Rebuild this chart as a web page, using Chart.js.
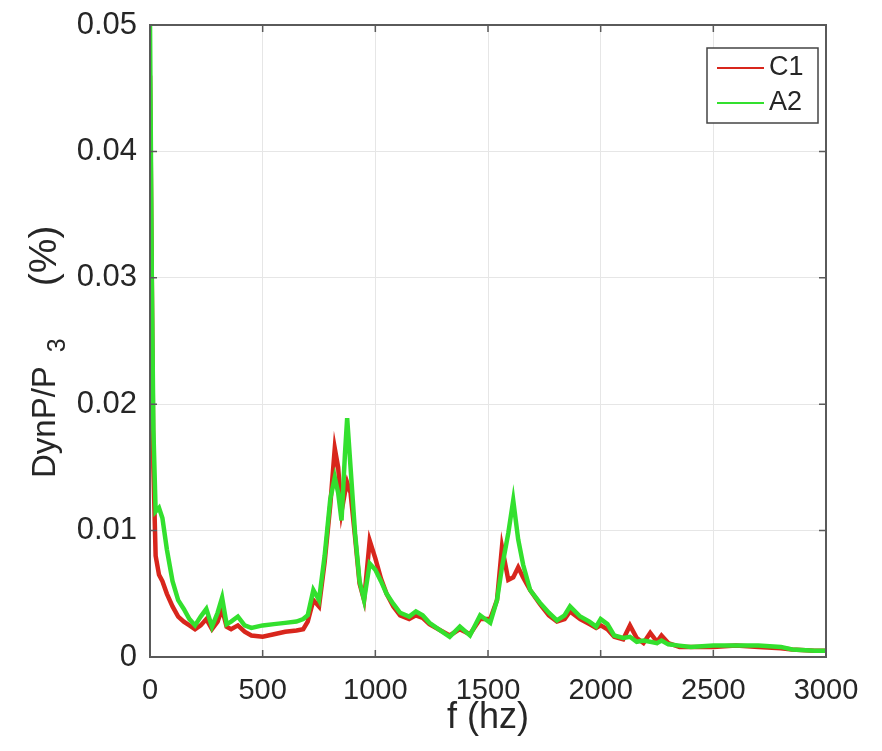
<!DOCTYPE html>
<html>
<head>
<meta charset="utf-8">
<script src="https://cdn.jsdelivr.net/npm/chart.js@4"></script>
<style>
    html, body { margin: 0; padding: 0; background: #ffffff; }
    #wrap { width: 882px; height: 751px; }
</style>
</head>
<body>
<div id="wrap"><canvas id="graph" width="882" height="751"></canvas></div>
<script>
// frequency (hz)
var freqs = [0, 8, 15, 25, 40, 55, 75, 100, 125, 150,
    175, 200, 225, 250, 275, 300, 320, 340, 360, 390,
    420, 450, 500, 550, 600, 650, 680, 700, 725, 750,
    775, 800, 820, 835, 850, 865, 875, 890, 910, 930,
    950, 975, 1000, 1025, 1050, 1080, 1110, 1150, 1180, 1210,
    1240, 1280, 1330, 1375, 1420, 1465, 1510, 1540, 1562, 1590,
    1612, 1634, 1656, 1687, 1730, 1770, 1806, 1840, 1864, 1909,
    1950, 1980, 2000, 2030, 2060, 2100, 2130, 2160, 2190, 2220,
    2250, 2270, 2300, 2350, 2400, 2500, 2600, 2700, 2800, 2850,
    2950, 3000];

// C1 (red)
var c1Values = [0.046, 0.03, 0.015, 0.008, 0.0065, 0.006, 0.005, 0.004, 0.0032, 0.0028,
    0.0025, 0.0022, 0.0025, 0.003, 0.0022, 0.0028, 0.0038, 0.0024, 0.0022, 0.0025,
    0.002, 0.0017, 0.0016, 0.0018, 0.002, 0.0021, 0.0022, 0.0028, 0.0045, 0.004,
    0.0075, 0.012, 0.0165, 0.015, 0.0115, 0.013, 0.0138, 0.013, 0.0095, 0.0058,
    0.0045, 0.0092, 0.0078, 0.0062, 0.005, 0.004, 0.0033, 0.003, 0.0033, 0.0031,
    0.0026, 0.0022, 0.0017, 0.0022, 0.0018, 0.003, 0.003, 0.0045, 0.0087, 0.0061,
    0.0063, 0.0071, 0.0063, 0.0053, 0.0042, 0.0033, 0.0028, 0.003, 0.0036, 0.003,
    0.0026, 0.0023, 0.0025, 0.0022, 0.0016, 0.0014, 0.0025, 0.0015, 0.0011, 0.0019,
    0.0012, 0.0017, 0.0011, 0.0008, 0.0008, 0.0008, 0.0009, 0.0008, 0.0007, 0.0006,
    0.0005, 0.0005];

// A2 (green)
var a2Values = [0.05, 0.03, 0.018, 0.0115, 0.0118, 0.011, 0.0085, 0.006, 0.0045, 0.0038,
    0.003, 0.0025, 0.0032, 0.0038, 0.0024, 0.0035, 0.0047, 0.0026, 0.0028, 0.0032,
    0.0025, 0.0023, 0.0025, 0.0026, 0.0027, 0.0028, 0.003, 0.0033, 0.0053, 0.0045,
    0.008, 0.0125, 0.0142, 0.013, 0.0108, 0.016, 0.0189, 0.015, 0.0098, 0.006,
    0.0045, 0.0074, 0.0069, 0.006, 0.005, 0.0042, 0.0035, 0.0032, 0.0036, 0.0033,
    0.0027, 0.0022, 0.0016, 0.0024, 0.0017, 0.0033, 0.0027, 0.0045, 0.0071, 0.0098,
    0.0124, 0.0093, 0.0073, 0.0053, 0.0043, 0.0035, 0.0029, 0.0033, 0.004, 0.0032,
    0.0028, 0.0024, 0.003, 0.0026, 0.0017, 0.0015, 0.0016, 0.0012, 0.0013, 0.0012,
    0.0011, 0.0013, 0.001, 0.0009, 0.0008, 0.0009, 0.0009, 0.0009, 0.0008, 0.0006,
    0.0005, 0.0005];

var xTicks = [0, 500, 1000, 1500, 2000, 2500, 3000];
var yTicks = [0, 0.01, 0.02, 0.03, 0.04, 0.05];
var seriesNames = ['C1', 'A2'];

var redColor = '#d8261c';
var greenColor = '#33e02e';
var textColor = '#262626';
var fontName = '"Liberation Sans", Arial, Helvetica, sans-serif';

function toPoints(values) {
    return freqs.map(function (f, i) { return { x: f, y: values[i] }; });
}

// box, inner ticks, y label with subscript and legend, MATLAB style
var boxPlugin = {
    id: 'boxPlugin',
    afterDatasetsDraw: function (chart) {
        var ctx = chart.ctx;
        var a = chart.chartArea;
        var xs = chart.scales.x;
        var ys = chart.scales.y;
        ctx.save();
        ctx.strokeStyle = '#5a5a5a';
        ctx.lineWidth = 2;
        ctx.strokeRect(a.left, a.top, a.right - a.left, a.bottom - a.top);

        // inner ticks
        ctx.lineWidth = 1.5;
        ctx.beginPath();
        xTicks.forEach(function (t) {
            var px = xs.getPixelForValue(t);
            ctx.moveTo(px, a.bottom); ctx.lineTo(px, a.bottom - 7);
            ctx.moveTo(px, a.top); ctx.lineTo(px, a.top + 7);
        });
        yTicks.forEach(function (t) {
            var py = ys.getPixelForValue(t);
            ctx.moveTo(a.left, py); ctx.lineTo(a.left + 7, py);
            ctx.moveTo(a.right, py); ctx.lineTo(a.right - 7, py);
        });
        ctx.stroke();

        // y label: DynP/P_3 (%)
        var big = '33px ' + fontName, small = '25px ' + fontName;
        ctx.font = big;
        var w1 = ctx.measureText('DynP/P').width;
        ctx.font = small;
        var w2 = ctx.measureText('3').width;
        ctx.translate(46, 478);
        ctx.rotate(-Math.PI / 2);
        ctx.fillStyle = textColor;
        ctx.textAlign = 'left';
        ctx.textBaseline = 'middle';
        ctx.font = big;
        ctx.fillText('DynP/P', 0, 0);
        ctx.font = small;
        ctx.fillText('3', w1 + 14, 12);
        ctx.font = '39px ' + fontName;
        ctx.fillText('(%)', w1 + 14 + w2 + 52, -1);
        ctx.setTransform(1, 0, 0, 1, 0, 0);

        // legend
        var bx = a.right - 119, by = a.top + 23, bw = 111, bh = 75;
        ctx.fillStyle = '#ffffff';
        ctx.fillRect(bx, by, bw, bh);
        ctx.strokeStyle = '#444444';
        ctx.lineWidth = 1.5;
        ctx.strokeRect(bx, by, bw, bh);
        var colors = [redColor, greenColor];
        ctx.font = '27px ' + fontName;
        ctx.textBaseline = 'middle';
        ctx.textAlign = 'left';
        seriesNames.forEach(function (name, i) {
            var ly = by + 20 + i * 35;
            ctx.strokeStyle = colors[i];
            ctx.lineWidth = 2;
            ctx.beginPath();
            ctx.moveTo(bx + 10, ly); ctx.lineTo(bx + 57, ly);
            ctx.stroke();
            ctx.fillStyle = textColor;
            ctx.fillText(name, bx + 62, ly);
        });
        ctx.restore();
    }
};

var ctx = document.getElementById('graph').getContext('2d');
var chart = new Chart(ctx, {
    type: 'line',
    data: {
        datasets: [
            {
                label: seriesNames[0],
                data: toPoints(c1Values),
                borderColor: redColor,
                backgroundColor: redColor,
                borderWidth: 4.5,
                pointRadius: 0,
                tension: 0,
                order: 2
            },
            {
                label: seriesNames[1],
                data: toPoints(a2Values),
                borderColor: greenColor,
                backgroundColor: greenColor,
                borderWidth: 4.5,
                pointRadius: 0,
                tension: 0,
                order: 1
            }
        ]
    },
    options: {
        responsive: false,
        maintainAspectRatio: false,
        animation: false,
        layout: {
            padding: { left: 0, right: 56, top: 25, bottom: 0 }
        },
        scales: {
            x: {
                type: 'linear',
                min: 0,
                max: 3000,
                afterBuildTicks: function (scale) {
                    scale.ticks = xTicks.map(function (v) { return { value: v }; });
                },
                afterFit: function (scale) {
                    scale.height = 94;
                    scale.paddingLeft = 0;
                    scale.paddingRight = 0;
                },
                ticks: {
                    padding: 17,
                    maxRotation: 0,
                    color: textColor,
                    font: { family: fontName, size: 29 },
                    callback: function (v) { return String(v); }
                },
                grid: { color: '#e6e6e6', lineWidth: 1, drawTicks: false },
                border: { display: false },
                title: {
                    display: true,
                    text: 'f (hz)',
                    color: textColor,
                    font: { family: fontName, size: 36 },
                    padding: { top: 0, bottom: 11 }
                }
            },
            y: {
                min: 0,
                max: 0.05,
                afterBuildTicks: function (scale) {
                    scale.ticks = yTicks.map(function (v) { return { value: v }; });
                },
                afterFit: function (scale) {
                    scale.width = 150;
                    scale.paddingTop = 0;
                    scale.paddingBottom = 0;
                },
                ticks: {
                    padding: 13,
                    color: textColor,
                    font: { family: fontName, size: 31 },
                    callback: function (v) { return String(+v.toFixed(2)); }
                },
                grid: { color: '#e6e6e6', lineWidth: 1, drawTicks: false },
                border: { display: false },
                title: { display: false }
            }
        },
        plugins: {
            legend: { display: false },
            tooltip: { enabled: false }
        }
    },
    plugins: [boxPlugin]
});
</script>
</body>
</html>
